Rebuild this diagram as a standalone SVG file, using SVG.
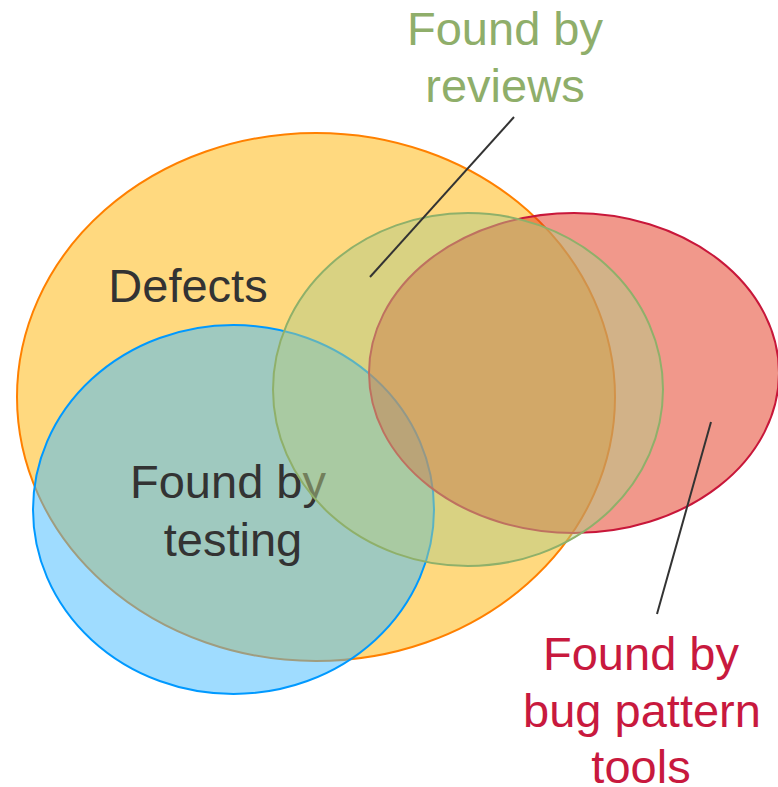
<svg xmlns="http://www.w3.org/2000/svg" width="778" height="787" viewBox="0 0 778 787">
  <style>
    .set { stroke-width: 2; }
    .label { font-family: "Liberation Sans", Arial, sans-serif; font-size: 47px; text-anchor: middle; }
    .dark { fill: #333333; }
    .leader { stroke: #333333; stroke-width: 2; fill: none; }
  </style>
  <rect width="778" height="787" fill="#ffffff"/>

  <!-- Sets, drawn back to front with half-transparent fills -->
  <g id="defects">
    <ellipse class="set" cx="316" cy="397" rx="299" ry="264" fill="#FFB300" fill-opacity="0.5" stroke="#FF8000"/>
    <text class="label dark" x="188" y="302">Defects</text>
  </g>
  <g id="testing">
    <ellipse class="set" cx="233.5" cy="509.5" rx="200.5" ry="184.5" fill="#3FB9FF" fill-opacity="0.5" stroke="#0099FF"/>
    <text class="label dark" x="228" y="498">Found by</text>
    <text class="label dark" x="233" y="556">testing</text>
  </g>
  <g id="bug-pattern-tools">
    <ellipse class="set" cx="574" cy="373" rx="205" ry="160" fill="#E33117" fill-opacity="0.5" stroke="#C8173A"/>
  </g>
  <g id="reviews">
    <ellipse class="set" cx="468" cy="389.5" rx="195" ry="176.5" fill="#B3CB85" fill-opacity="0.5" stroke="#8FB06A"/>
  </g>

  <!-- Leader lines from outside labels into their sets -->
  <g id="connectors">
    <line class="leader" x1="514" y1="117" x2="370" y2="277"/>
    <line class="leader" x1="711" y1="422" x2="657" y2="614"/>
  </g>

  <!-- Outside labels -->
  <g id="labels">
    <text class="label" fill="#8FAE6A" x="505" y="45">Found by</text>
    <text class="label" fill="#8FAE6A" x="505" y="102">reviews</text>
    <text class="label" fill="#C8193E" x="641" y="670">Found by</text>
    <text class="label" fill="#C8193E" x="642" y="727">bug pattern</text>
    <text class="label" fill="#C8193E" x="641" y="783">tools</text>
  </g>
</svg>
